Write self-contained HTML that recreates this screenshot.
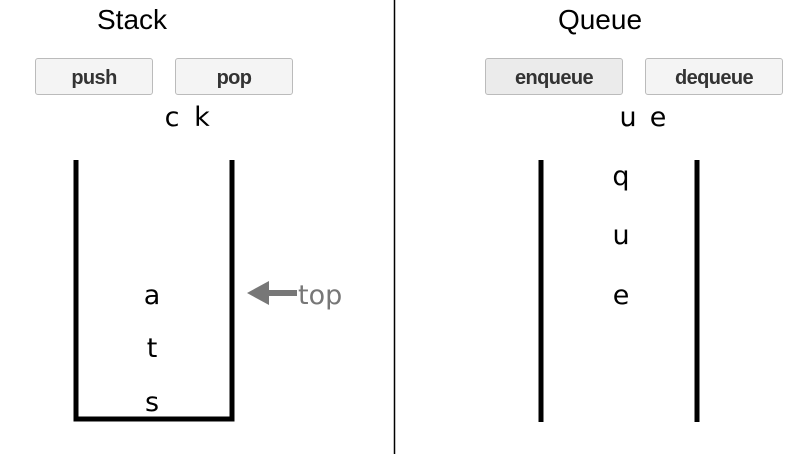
<!DOCTYPE html>
<html><head><style>
html,body{margin:0;padding:0;background:#fff;width:801px;height:454px;overflow:hidden}
.btn{position:absolute;top:58px;height:37px;border:1px solid #bbb;border-radius:3px;background:#f4f4f4;font:bold 20px "Liberation Sans",sans-serif;color:#333;text-align:center;line-height:38px;box-sizing:border-box;letter-spacing:-0.6px}
</style></head><body>
<div class="btn" style="left:35px;width:118px">push</div>
<div class="btn" style="left:175px;width:118px">pop</div>
<div class="btn" style="left:485px;width:138px;background:#ebebeb">enqueue</div>
<div class="btn" style="left:645px;width:138px">dequeue</div>
<svg width="801" height="454" style="position:absolute;left:0;top:0">
<g font-family="Liberation Sans, sans-serif" font-size="28" text-anchor="middle" fill="#000">
<text x="132" y="29">Stack</text>
<text x="600" y="29">Queue</text>
</g>
<line x1="394.5" y1="0" x2="394.5" y2="454" stroke="#000" stroke-width="1.5"/>
<path d="M76 160 V419 H232 V160" fill="none" stroke="#000" stroke-width="5"/>
<line x1="541" y1="160" x2="541" y2="422" stroke="#000" stroke-width="5"/>
<line x1="697" y1="160" x2="697" y2="422" stroke="#000" stroke-width="5"/>
<g font-family="DejaVu Sans, sans-serif" font-size="27" text-anchor="middle" fill="#000">
<text x="172" y="126">c</text><text x="202" y="126">k</text>
<text x="628" y="126">u</text><text x="658" y="126">e</text>
<text x="152" y="304">a</text><text x="152" y="357">t</text><text x="152" y="411">s</text>
<text x="621" y="185">q</text><text x="621" y="244">u</text><text x="621" y="304">e</text>
</g>
<polygon points="247,293 269,281 269,305" fill="#777"/>
<rect x="266" y="290" width="31" height="6" fill="#777"/>
<text x="298" y="304" font-family="DejaVu Sans, sans-serif" font-size="27" fill="#777">top</text>
</svg>
</body></html>
